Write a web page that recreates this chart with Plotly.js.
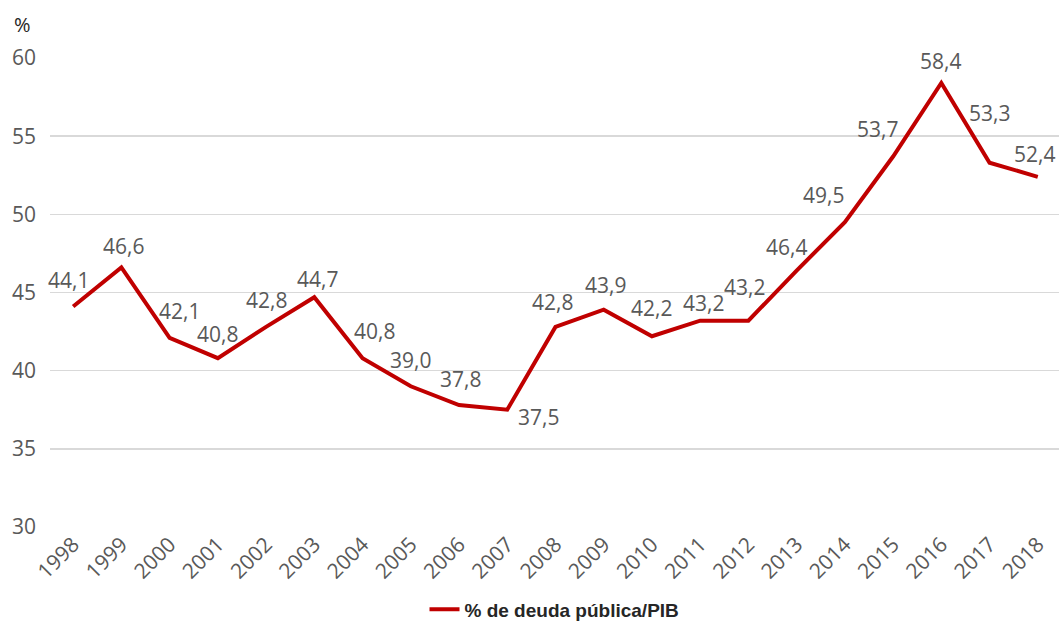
<!DOCTYPE html>
<html>
<head>
<meta charset="utf-8">
<script src="https://cdn.plot.ly/plotly-3.0.1.min.js"></script>
<style>html,body{margin:0;padding:0;background:#fff;}#chart{width:1059px;height:623px;}</style>
</head>
<body>
<div id="chart"></div>
<script>
const years = [1998,1999,2000,2001,2002,2003,2004,2005,2006,2007,2008,2009,2010,2011,2012,2013,2014,2015,2016,2017,2018];
const debt = [44.1,46.6,42.1,40.8,42.8,44.7,40.8,39.0,37.8,37.5,42.8,43.9,42.2,43.2,43.2,46.4,49.5,53.7,58.4,53.3,52.4];
const seriesName = "% de deuda pública/PIB";
const yAxisUnit = "%";
// label offsets in pixels (dx right, dy up)
const labelDx = [-5,2,10,0,0,3,12,0,1,31,-3,2,0,3,-4,-10,-21,-16,-1,0,-3];
const labelDy = [27,21,27,24,27,18,27,26,26,-7,25,25,28,18,34,24,27,27,22,50,23];

const fmt = v => v.toFixed(1).replace('.', ',');
const FONT = 'Open Sans, sans-serif';

const annotations = years.map((yr, i) => ({
  x: yr, y: debt[i], xref: 'x', yref: 'y',
  text: fmt(debt[i]), showarrow: false,
  xanchor: 'center', yanchor: 'middle',
  xshift: labelDx[i], yshift: labelDy[i],
  font: {family: FONT, size: 21, color: '#595959'}
}));
annotations.push({
  text: yAxisUnit, xref: 'paper', yref: 'paper', x: -0.027, y: 1.072,
  xanchor: 'center', yanchor: 'middle', showarrow: false,
  font: {family: FONT, size: 20, color: '#262626'}
});

const trace = {
  x: years, y: debt, type: 'scatter', mode: 'lines', name: seriesName,
  line: {color: '#C00000', width: 4}, hoverinfo: 'skip'
};

const layout = {
  width: 1059, height: 623,
  margin: {l: 50, r: 0, t: 58, b: 96},
  paper_bgcolor: '#fff', plot_bgcolor: '#fff',
  showlegend: true,
  legend: {orientation: 'h', x: 0.5, xanchor: 'center', xref: 'paper',
    yref: 'container', y: 0.022, yanchor: 'middle',
    font: {family: 'Liberation Sans, Arial, sans-serif', size: 19, color: '#262626', weight: 'bold'}},
  xaxis: {
    range: [1997.52, 2018.44], tickmode: 'array', tickvals: years, ticktext: years.map(String),
    tickangle: -45, showgrid: false, zeroline: false, showline: false, ticks: '', automargin: false,
    tickfont: {family: FONT, size: 21, color: '#595959'}
  },
  yaxis: {
    range: [30, 60], dtick: 5, tick0: 30, showgrid: true, gridcolor: '#d9d9d9', gridwidth: 1.5,
    zeroline: false, showline: false, ticks: '', ticklabelstandoff: 13, automargin: false,
    tickfont: {family: FONT, size: 21, color: '#595959'}
  },
  annotations: annotations
};

Plotly.newPlot('chart', [trace], layout, {staticPlot: true, displayModeBar: false});
</script>
</body>
</html>
